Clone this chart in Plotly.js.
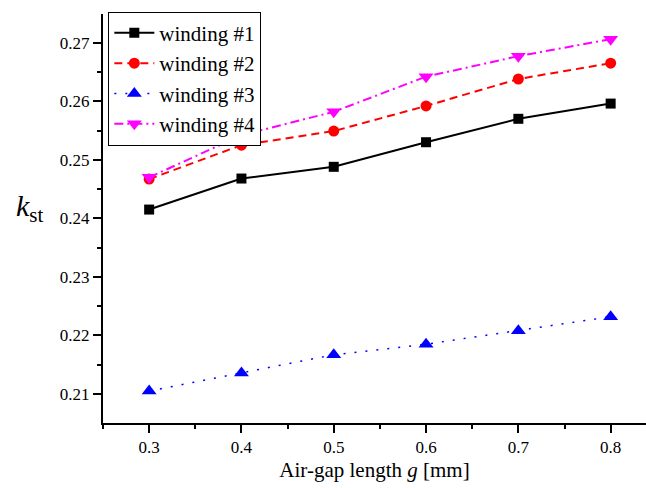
<!DOCTYPE html>
<html>
<head>
<meta charset="utf-8">
<script src="https://cdn.plot.ly/plotly-3.0.1.min.js"></script>
<style>html,body{margin:0;padding:0;background:#fff;}#chart{width:646px;height:488px;}</style>
</head>
<body>
<div id="chart"></div>
<script>
const gapLength = [0.3, 0.4, 0.5, 0.6, 0.7, 0.8];
const winding1 = [0.2415, 0.2468, 0.2488, 0.2530, 0.2570, 0.2596];
const winding2 = [0.2467, 0.2525, 0.2549, 0.2592, 0.2638, 0.2665];
const winding3 = [0.2105, 0.2136, 0.2167, 0.2185, 0.2208, 0.2232];
const winding4 = [0.2470, 0.2542, 0.2582, 0.2642, 0.2677, 0.2706];
const seriesNames = ['winding #1', 'winding #2', 'winding #3', 'winding #4'];
const xTicks = [0.3, 0.4, 0.5, 0.6, 0.7, 0.8];
const yTicks = [0.21, 0.22, 0.23, 0.24, 0.25, 0.26, 0.27];

const FONT = 'Times New Roman, Liberation Serif, Times, serif';

const traces = [
  {x: gapLength, y: winding1, name: seriesNames[0], mode: 'lines+markers',
   line: {color: '#000000', width: 2, dash: 'solid'},
   marker: {symbol: 'square', size: 10, color: '#000000'}},
  {x: gapLength, y: winding2, name: seriesNames[1], mode: 'lines+markers',
   line: {color: '#ff0000', width: 2, dash: '8px,5px'},
   marker: {symbol: 'circle', size: 11, color: '#ff0000'}},
  {x: gapLength, y: winding3, name: seriesNames[2], mode: 'lines+markers',
   line: {color: '#0000ff', width: 1.5, dash: '2px,9px'},
   marker: {symbol: 'triangle-up', size: 13, color: '#0000ff'}},
  {x: gapLength, y: winding4, name: seriesNames[3], mode: 'lines+markers',
   line: {color: '#ff00ff', width: 2, dash: '9px,4px,2px,4px'},
   marker: {symbol: 'triangle-down', size: 13, color: '#ff00ff'}}
];

const layout = {
  width: 646, height: 488, autosize: false,
  margin: {l: 103, r: 0, t: 14, b: 65, pad: 0},
  paper_bgcolor: '#ffffff', plot_bgcolor: '#ffffff',
  font: {family: FONT, color: '#000000', size: 17},
  showlegend: true,
  legend: {x: 0.0098, y: 1.0056, xanchor: 'left', yanchor: 'top',
           bgcolor: '#ffffff', bordercolor: '#000000', borderwidth: 1,
           itemwidth: 40, tracegroupgap: 0,
           font: {family: FONT, size: 21, color: '#000000'}},
  xaxis: {
    range: [0.25, 0.8383], tickvals: xTicks, ticktext: xTicks.map(v => v.toFixed(1)),
    showline: true, linecolor: '#000000', linewidth: 2, mirror: false,
    ticks: 'outside', ticklen: 8, tickwidth: 2, tickcolor: '#000000',
    showgrid: false, zeroline: false,
    tickfont: {family: FONT, size: 17, color: '#000000'},
    minor: {dtick: 0.05, tick0: 0.25, ticks: 'outside', ticklen: 4, tickwidth: 2, tickcolor: '#000000', showgrid: false},
    title: {text: 'Air-gap length <i>g</i> [mm]', font: {family: FONT, size: 21, color: '#000000'}, standoff: 6}
  },
  yaxis: {
    range: [0.205047, 0.2749], tickvals: yTicks, ticktext: yTicks.map(v => v.toFixed(2)),
    showline: true, linecolor: '#000000', linewidth: 2, mirror: false,
    ticks: 'outside', ticklen: 8, tickwidth: 2, tickcolor: '#000000',
    showgrid: false, zeroline: false,
    tickfont: {family: FONT, size: 17, color: '#000000'},
    minor: {dtick: 0.005, tick0: 0.2, ticks: 'outside', ticklen: 4, tickwidth: 2, tickcolor: '#000000', showgrid: false}
  },
  annotations: [{
    text: '<i>k</i><sub>st</sub>', xref: 'paper', yref: 'paper',
    x: -0.134, y: 0.526, xanchor: 'center', yanchor: 'middle', showarrow: false,
    font: {family: FONT, size: 30, color: '#000000'}
  }]
};

Plotly.newPlot('chart', traces, layout, {displayModeBar: false, staticPlot: true});
</script>
</body>
</html>
